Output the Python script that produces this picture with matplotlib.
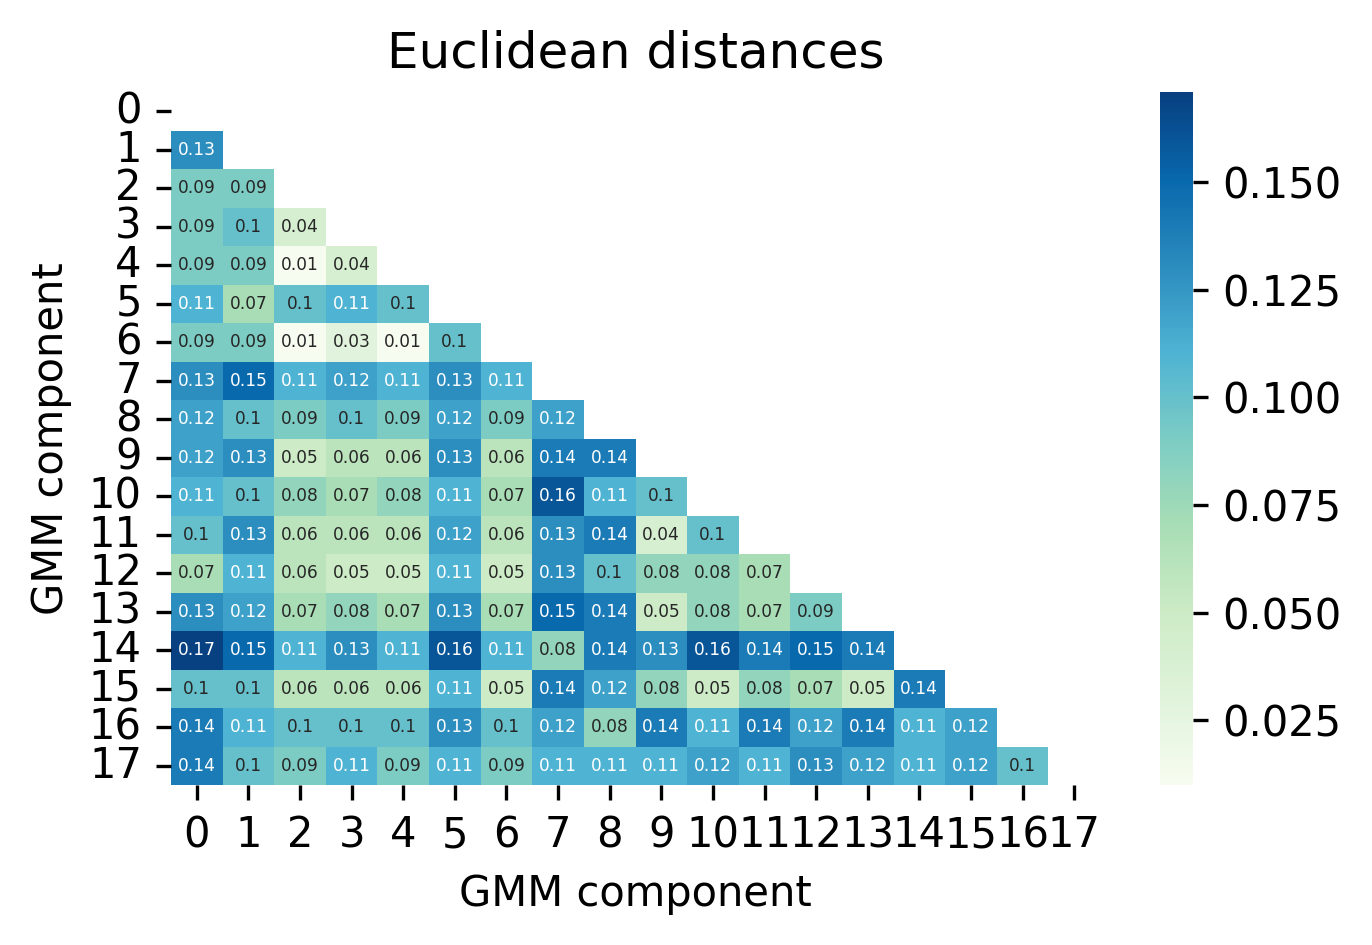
import numpy as np
import matplotlib
matplotlib.use("Agg")
import matplotlib.pyplot as plt
import seaborn as sns

labels = [str(i) for i in range(18)]

rows = [
    [],
    [0.13],
    [0.09, 0.09],
    [0.09, 0.10, 0.04],
    [0.09, 0.09, 0.01, 0.04],
    [0.11, 0.07, 0.10, 0.11, 0.10],
    [0.09, 0.09, 0.01, 0.03, 0.01, 0.10],
    [0.13, 0.15, 0.11, 0.12, 0.11, 0.13, 0.11],
    [0.12, 0.10, 0.09, 0.10, 0.09, 0.12, 0.09, 0.12],
    [0.12, 0.13, 0.05, 0.06, 0.06, 0.13, 0.06, 0.14, 0.14],
    [0.11, 0.10, 0.08, 0.07, 0.08, 0.11, 0.07, 0.16, 0.11, 0.10],
    [0.10, 0.13, 0.06, 0.06, 0.06, 0.12, 0.06, 0.13, 0.14, 0.04, 0.10],
    [0.07, 0.11, 0.06, 0.05, 0.05, 0.11, 0.05, 0.13, 0.10, 0.08, 0.08, 0.07],
    [0.13, 0.12, 0.07, 0.08, 0.07, 0.13, 0.07, 0.15, 0.14, 0.05, 0.08, 0.07, 0.09],
    [0.17, 0.15, 0.11, 0.13, 0.11, 0.16, 0.11, 0.08, 0.14, 0.13, 0.16, 0.14, 0.15, 0.14],
    [0.10, 0.10, 0.06, 0.06, 0.06, 0.11, 0.05, 0.14, 0.12, 0.08, 0.05, 0.08, 0.07, 0.05, 0.14],
    [0.14, 0.11, 0.10, 0.10, 0.10, 0.13, 0.10, 0.12, 0.08, 0.14, 0.11, 0.14, 0.12, 0.14, 0.11, 0.12],
    [0.14, 0.10, 0.09, 0.11, 0.09, 0.11, 0.09, 0.11, 0.11, 0.11, 0.12, 0.11, 0.13, 0.12, 0.11, 0.12, 0.10],
]

n = len(labels)
D = np.zeros((n, n))
for i, r in enumerate(rows):
    for j, v in enumerate(r):
        D[i, j] = v
        D[j, i] = v

mask = np.triu(np.ones((n, n), dtype=bool))

plt.rcParams['font.family'] = ['DejaVu Sans']

W, H = 1372, 945
fig = plt.figure(figsize=(W / 300, H / 300), dpi=300)
ax = fig.add_axes([171 / W, 1 - 785 / H, 929 / W, 693 / H])
cax = fig.add_axes([1160 / W, 1 - 785 / H, 33 / W, 693 / H])

sns.heatmap(D, mask=mask, cmap="GnBu", annot=True, fmt=".2g",
            annot_kws={"size": 4.1}, vmin=0.0099, vmax=0.171,
            xticklabels=labels, yticklabels=labels, ax=ax, cbar_ax=cax)

ax.set_title("Euclidean distances", fontsize=12)
ax.set_xlabel("GMM component", fontsize=10)
ax.set_ylabel("GMM component", fontsize=10)
ax.tick_params(axis='both', labelsize=10)
ax.tick_params(axis='y', rotation=0)
ax.tick_params(axis='x', rotation=0)
cax.tick_params(labelsize=10)
cax.set_yticks([0.025, 0.05, 0.075, 0.1, 0.125, 0.15])
cax.set_yticklabels(["0.025", "0.050", "0.075", "0.100", "0.125", "0.150"])

fig.savefig("out.png", dpi=300)
